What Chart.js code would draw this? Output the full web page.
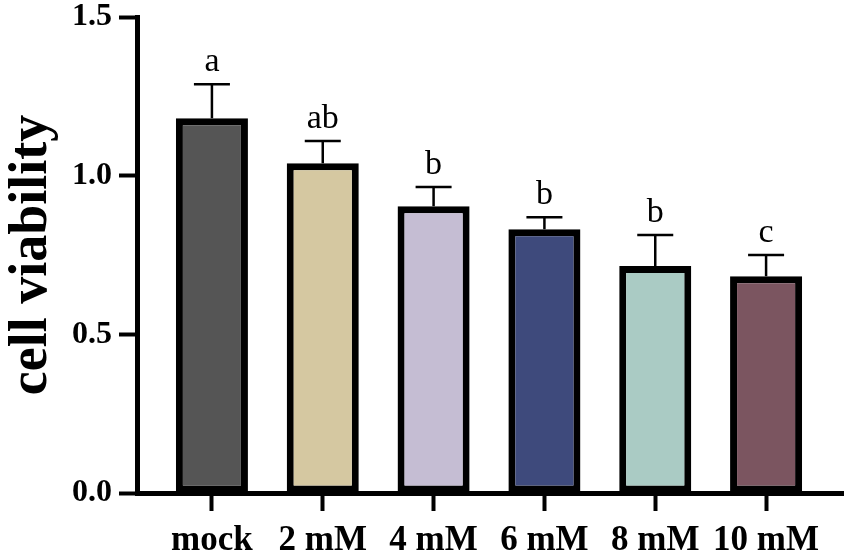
<!DOCTYPE html>
<html>
<head>
<meta charset="utf-8">
<script src="https://cdn.jsdelivr.net/npm/chart.js@4"></script>
<style>
html,body{margin:0;padding:0;background:#fff;}
#wrap{width:851px;height:560px;}
</style>
</head>
<body>
<div id="wrap"><canvas id="chart"></canvas></div>
<script>
const cats=['mock','2 mM','4 mM','6 mM','8 mM','10 mM'];
const means=[1.181,1.039,0.904,0.831,0.715,0.683];
const errs=[0.107,0.070,0.060,0.038,0.098,0.067];
const letters=['a','ab','b','b','b','c'];
const colors=['#555555','#d5c8a1','#c5bdd3','#3e4a7c','#aacbc4','#7b5560'];
const yTicks=[0,0.5,1.0,1.5];
const serif="'Liberation Serif','Times New Roman',serif";

// error bars (upper only) and letters
const errPlugin={id:'err',afterDatasetsDraw(c){
 const ctx=c.ctx,x=c.scales.x,y=c.scales.y;
 ctx.save();
 ctx.strokeStyle='#000';ctx.lineWidth=2.5;
 ctx.fillStyle='#000';ctx.font='34px '+serif;ctx.textAlign='center';ctx.textBaseline='alphabetic';
 means.forEach((m,i)=>{
  let px=x.getPixelForValue(i),top=y.getPixelForValue(m),cap=y.getPixelForValue(m+errs[i]);
  ctx.beginPath();ctx.moveTo(px,top);ctx.lineTo(px,cap);
  ctx.moveTo(px-18,cap);ctx.lineTo(px+18,cap);ctx.stroke();
  ctx.fillText(letters[i],px,cap-13);
 });
 ctx.restore();
}};

new Chart(document.getElementById('chart'),{
 type:'bar',
 data:{datasets:[{data:means.map((v,i)=>({x:i,y:v})),backgroundColor:colors,borderColor:'#000',borderWidth:7,borderSkipped:false,barPercentage:0.65,categoryPercentage:1}]},
 options:{
  responsive:true,maintainAspectRatio:false,animation:false,
  layout:{padding:{top:17,right:8,left:0,bottom:0}},
  plugins:{legend:{display:false},tooltip:{enabled:false}},
  scales:{
   x:{type:'linear',min:-0.676,max:5.694,offset:false,
    afterBuildTicks(s){s.ticks=cats.map((c,i)=>({value:i}));},
    afterFit(s){s.height=67;s.paddingLeft=0;s.paddingRight=0;},
    grid:{offset:false,drawOnChartArea:false,drawTicks:true,tickLength:18,tickWidth:4,tickColor:'#000'},
    border:{display:true,color:'#000',width:5},
    ticks:{color:'#000',padding:9,maxRotation:0,autoSkip:false,font:{family:serif,size:35,weight:'bold'},callback:v=>cats[v]}},
   y:{min:0,max:1.5,
    afterBuildTicks(s){s.ticks=yTicks.map(v=>({value:v}));},
    afterFit(s){s.width=137;s.paddingTop=0;s.paddingBottom=0;},
    grid:{drawOnChartArea:false,drawTicks:true,tickLength:18,tickWidth:4,tickColor:'#000'},
    border:{display:true,color:'#000',width:5},
    ticks:{color:'#000',padding:7,font:{family:serif,size:32,weight:'bold'},callback:v=>v.toFixed(1)},
    title:{display:true,text:'cell viability',color:'#000',padding:{top:0,bottom:0},font:{family:serif,size:54,weight:'bold'}}}
  }
 },
 plugins:[errPlugin]
});
</script>
</body>
</html>
